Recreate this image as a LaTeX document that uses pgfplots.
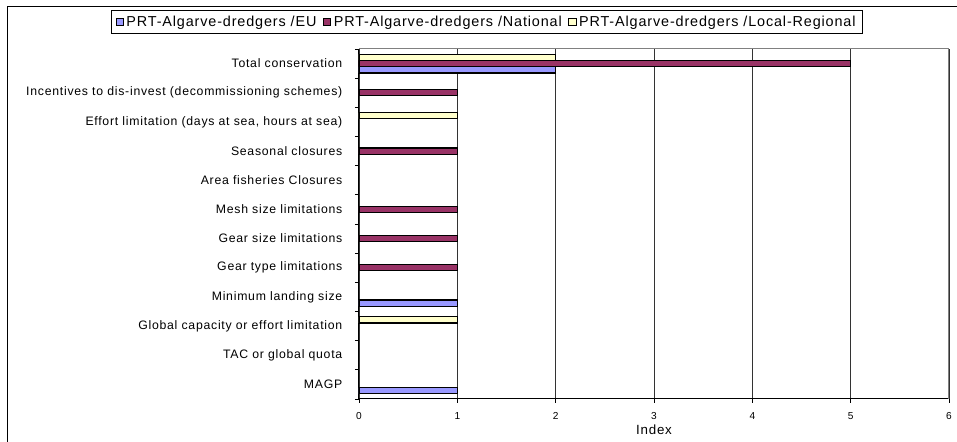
\documentclass[border=0pt]{standalone}
\usepackage{pgfplots}
\pgfplotsset{compat=1.18}
\usepackage{fontspec}
\setmainfont{Liberation Sans}[LetterSpace=6]
\definecolor{cEU}{HTML}{9999FF}
\definecolor{cNat}{HTML}{993366}
\definecolor{cLoc}{HTML}{FFFFCC}
\begin{document}
\begin{tikzpicture}[x=0.75pt,y=0.75pt]
\useasboundingbox (0,0) rectangle (957,442);
\draw[line width=0.75pt] (7.5,-10) -- (7.5,435) -- (970,435);
\begin{axis}[
  at={(269.25pt,32.25pt)}, anchor=south west,
  scale only axis, width=442.5pt, height=262.5pt,
  xbar, bar width=4.7pt,
  xmin=0, xmax=6, ymin=-0.5, ymax=11.5,
  axis x line*=bottom, axis y line*=left,
  axis line style={line width=0.75pt, black, -},
  xtick={0,...,6},
  ytick={-0.5,0.5,...,11.5}, yticklabels={},
  extra y ticks={0,...,11},
  extra y tick labels={{MAGP},{TAC or global quota},{Global capacity or effort limitation},{Minimum landing size},{Gear type  limitations},{Gear size limitations},{Mesh size limitations},{Area fisheries Closures},{Seasonal closures},{Effort limitation (days at sea, hours at sea)},{Incentives to dis-invest (decommissioning schemes)},{Total conservation}},
  extra y tick style={major tick length=0pt, grid=none, yticklabel style={xshift=-9pt}},
  tick align=outside, major tick length=3pt,
  tick style={black, line width=0.6pt},
  xmajorgrids, grid style={black!80, line width=0.55pt},
  /pgf/number format/assume math mode=true,
  xticklabel style={font=\fontsize{7.6pt}{9pt}\selectfont, yshift=-3.5pt},
  yticklabel style={font=\fontsize{9.2pt}{10pt}\selectfont},
  xlabel={Index},
  xlabel style={at={(axis description cs:0.5,-0.089)}, anchor=center, font=\fontsize{10pt}{12pt}\selectfont},
  legend columns=3,
  legend style={at={(0.217,1.077)}, anchor=center, draw=black, line width=0.75pt,
    font=\fontsize{10.8pt}{13pt}\selectfont, inner xsep=3pt, inner ysep=2pt,
    /tikz/every even column/.append style={column sep=3pt}},
  legend image code/.code={\draw[#1,line width=0.6pt] (0pt,-2.6pt) rectangle (5.4pt,2.6pt);},
  every axis plot/.append style={draw=black, line width=0.9pt},
]
\addplot[fill=cEU, bar shift=-4.7pt] coordinates {(1,0) (1,3) (2,11)};
\addplot[fill=cNat, bar shift=0pt] coordinates {(1,4) (1,5) (1,6) (1,8) (1,10) (5,11)};
\addplot[fill=cLoc, bar shift=4.7pt] coordinates {(1,2) (1,9) (2,11)};
\legend{PRT-Algarve-dredgers /EU, PRT-Algarve-dredgers /National, PRT-Algarve-dredgers /Local-Regional}
\draw[gray, line width=0.75pt] (rel axis cs:0,1) -- (rel axis cs:1,1) -- (rel axis cs:1,0);
\end{axis}
\end{tikzpicture}
\end{document}
